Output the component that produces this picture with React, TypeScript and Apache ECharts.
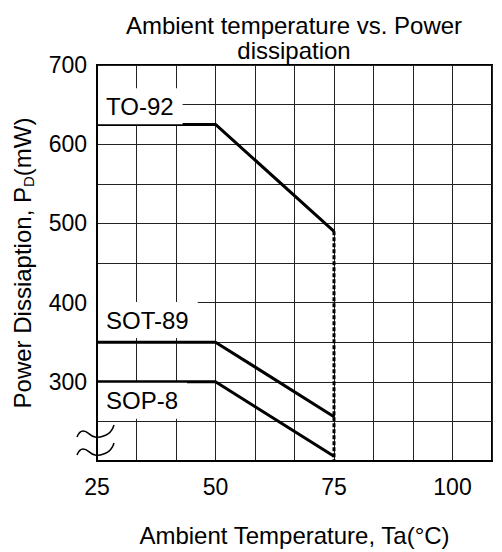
import React, { useEffect, useRef } from "react";
import * as echarts from "echarts";

const FONT = "Liberation Sans, Arial, sans-serif";

const temps = [25, 50, 75];
const to92 = [625, 625, 490];
const sot89 = [350, 350, 256];
const sop8 = [300, 300, 206];
const cutoffX = [75, 75];
const cutoffY = [490, 200];

const seriesNames = ["TO-92", "SOT-89", "SOP-8"];
const labelLevels = [648, 378, 276];

const titleText = "Ambient temperature vs. Power\ndissipation";
const xName = "Ambient Temperature, Ta(°C)";
const yNameParts = ["Power Dissiaption, P", "D", "(mW)"];

const X_MIN = 25;
const X_MAX = 325 / 3;
const X_GRID_STEP = 25 / 3;
const X_LABEL_STEP = 25;
const Y_MIN = 200;
const Y_MAX = 700;
const Y_GRID_STEP = 50;
const Y_LABEL_STEP = 100;

export default function App() {
  const ref = useRef<HTMLDivElement>(null);
  useEffect(() => {
    if (!ref.current) return;
    const chart = echarts.init(ref.current, null, { renderer: "svg" });
    const lines = [to92, sot89, sop8];
    const mkSeries = lines.map((vals, i) => ({
      type: "line",
      name: seriesNames[i],
      data: temps.map((t, k) => [t, vals[k]]),
      symbol: "none",
      lineStyle: { color: "#000", width: 3 },
      z: 3,
      markPoint: {
        symbol: "rect",
        symbolSize: 0,
        data: [
          {
            coord: [temps[0], labelLevels[i]],
            label: {
              show: true,
              position: "right",
              distance: 1,
              formatter: seriesNames[i],
              backgroundColor: "#fff",
              padding: [6, 9, 6, 8],
              color: "#000",
              fontSize: 24,
              fontFamily: FONT,
            },
          },
        ],
      },
    }));
    const squiggle = (dy: number) => ({
      type: "polyline",
      z: 10,
      shape: {
        points: [
          [77, 437 + dy],
          [83, 431 + dy],
          [95, 437 + dy],
          [106, 435 + dy],
          [111, 431 + dy],
          [114, 425 + dy],
        ],
        smooth: 0.5,
      },
      style: { stroke: "#000", lineWidth: 1.5, fill: "none" },
    });
    chart.setOption({
      animation: false,
      backgroundColor: "#fff",
      textStyle: { fontFamily: FONT },
      grid: {
        left: 96,
        right: 10,
        top: 65,
        bottom: 91,
        show: true,
        borderColor: "#000",
        borderWidth: 2,
        containLabel: false,
      },
      graphic: [
        {
          type: "text",
          z: 10,
          style: {
            text: titleText,
            x: 294,
            y: 13,
            align: "center",
            verticalAlign: "top",
            font: `24px ${FONT}`,
            lineHeight: 25,
            fill: "#000",
          },
        },
        squiggle(0),
        squiggle(18),
      ],
      xAxis: [
        {
          type: "value",
          position: "bottom",
          min: X_MIN,
          max: X_MAX,
          interval: X_GRID_STEP,
          axisLine: { show: true, lineStyle: { color: "#000", width: 2 } },
          axisTick: { show: false },
          axisLabel: { show: false },
          splitLine: { show: true, lineStyle: { color: "#222", width: 1 } },
        },
        {
          type: "value",
          position: "bottom",
          offset: 0,
          min: X_MIN,
          max: X_MAX,
          interval: X_LABEL_STEP,
          name: xName,
          nameLocation: "middle",
          nameGap: 62,
          nameTextStyle: { fontSize: 24, color: "#000", fontFamily: FONT },
          axisLine: { show: false },
          axisTick: { show: false },
          splitLine: { show: false },
          axisLabel: {
            margin: 14,
            fontSize: 23,
            color: "#000",
            fontFamily: FONT,
            showMaxLabel: false,
            formatter: (v: number) => String(Math.round(v)),
          },
        },
      ],
      yAxis: [
        {
          type: "value",
          position: "left",
          min: Y_MIN,
          max: Y_MAX,
          interval: Y_GRID_STEP,
          axisLine: { show: true, lineStyle: { color: "#000", width: 2 } },
          axisTick: { show: false },
          axisLabel: { show: false },
          splitLine: { show: true, lineStyle: { color: "#222", width: 1 } },
        },
        {
          type: "value",
          position: "left",
          offset: 0,
          min: Y_MIN,
          max: Y_MAX,
          interval: Y_LABEL_STEP,
          name: `${yNameParts[0]}{sub|${yNameParts[1]}}${yNameParts[2]}`,
          nameLocation: "middle",
          nameGap: 61,
          nameTextStyle: {
            fontSize: 24,
            color: "#000",
            fontFamily: FONT,
            lineHeight: 28,
            rich: {
              sub: { fontSize: 15, lineHeight: 15, verticalAlign: "bottom", color: "#000", fontFamily: FONT },
            },
          },
          axisLine: { show: false },
          axisTick: { show: false },
          splitLine: { show: false },
          axisLabel: {
            margin: 10,
            fontSize: 23,
            color: "#000",
            fontFamily: FONT,
            showMinLabel: false,
          },
        },
      ],
      series: [
        ...mkSeries,
        {
          type: "line",
          name: "cutoff",
          data: cutoffX.map((x, k) => [x, cutoffY[k]]),
          symbol: "none",
          lineStyle: { color: "#000", width: 3, type: [4, 2] },
          z: 4,
        },
      ],
    });
    return () => chart.dispose();
  }, []);
  return (
    <div
      ref={ref}
      style={{ position: "fixed", left: 0, top: 0, width: 502, height: 552 }}
    />
  );
}
